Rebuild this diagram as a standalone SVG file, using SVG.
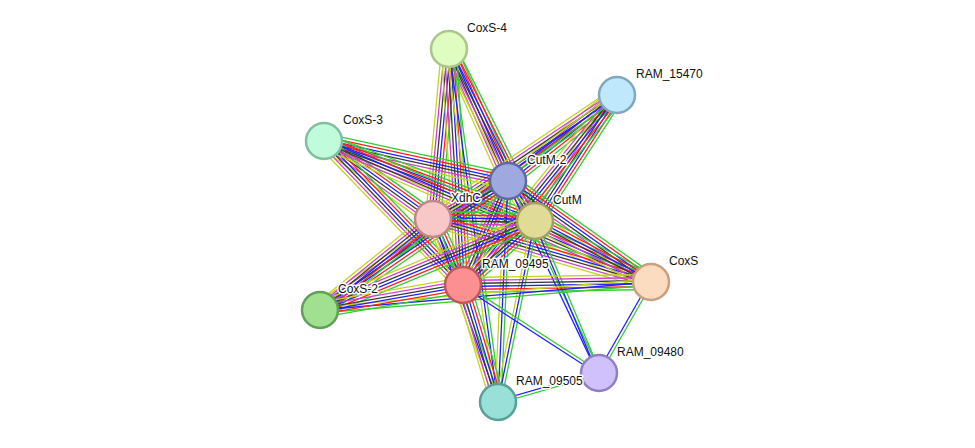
<svg xmlns="http://www.w3.org/2000/svg" xmlns:xlink="http://www.w3.org/1999/xlink" width="975" height="448" viewBox="0 0 975 448">
<style>
line{vector-effect:non-scaling-stroke;stroke-width:1.3}
.g{stroke:#33cc33}.r{stroke:#ff2020}.b{stroke:#2020ff}.k{stroke:#3a3a3a}.m{stroke:#d040d0}.y{stroke:#c4d420}
circle{stroke-width:2.5}
text{font-family:"Liberation Sans",Arial,sans-serif;font-size:12px;fill:#111;paint-order:stroke;stroke:#fff;stroke-width:3px;stroke-linejoin:round}
</style>
<defs>
<g id="b6"><line class="g" x1="0" y1="-7.5" x2="1" y2="-7.5"/><line class="r" x1="0" y1="-4.5" x2="1" y2="-4.5"/><line class="b" x1="0" y1="-1.5" x2="1" y2="-1.5"/><line class="k" x1="0" y1="1.5" x2="1" y2="1.5"/><line class="m" x1="0" y1="4.5" x2="1" y2="4.5"/><line class="y" x1="0" y1="7.5" x2="1" y2="7.5"/></g>
<g id="b3"><line class="g" x1="0" y1="-3" x2="1" y2="-3"/><line class="b" x1="0" y1="0" x2="1" y2="0"/><line class="y" x1="0" y1="3" x2="1" y2="3"/></g>
<g id="b2"><line class="g" x1="0" y1="-1.5" x2="1" y2="-1.5"/><line class="b" x1="0" y1="1.5" x2="1" y2="1.5"/></g>
</defs>
<g id="edges">
<use href="#b6" transform="matrix(59,132,-.913,.408,449,49)"/>
<use href="#b6" transform="matrix(-16,170,-.9956,-.0937,449,49)"/>
<use href="#b6" transform="matrix(86,172,-.894,.447,449,49)"/>
<use href="#b6" transform="matrix(14,236,-.9982,.0592,449,49)"/>
<use href="#b3" transform="matrix(49,353,-.9905,.1375,449,49)"/>
<use href="#b6" transform="matrix(-109,86,-.62,-.785,617,95)"/>
<use href="#b6" transform="matrix(-184,124,-.559,-.829,617,95)"/>
<use href="#b6" transform="matrix(-82,126,-.838,-.5455,617,95)"/>
<use href="#b6" transform="matrix(-154,190,-.777,-.63,617,95)"/>
<use href="#b3" transform="matrix(-297,215,-.586,-.81,617,95)"/>
<use href="#b6" transform="matrix(184,40,-.2124,.977,324,141)"/>
<use href="#b6" transform="matrix(109,78,-.582,.813,324,141)"/>
<use href="#b6" transform="matrix(211,80,-.3545,.935,324,141)"/>
<use href="#b6" transform="matrix(139,144,-.72,.695,324,141)"/>
<use href="#b6" transform="matrix(327,141,-.396,.918,324,141)"/>
<use href="#b6" transform="matrix(-75,38,-.452,-.892,508,181)"/>
<use href="#b6" transform="matrix(27,40,-.828,.559,508,181)"/>
<use href="#b6" transform="matrix(-45,104,-.918,-.397,508,181)"/>
<use href="#b6" transform="matrix(-188,129,-.566,-.8245,508,181)"/>
<use href="#b6" transform="matrix(143,101,-.577,.8167,508,181)"/>
<use href="#b3" transform="matrix(-10,221,-.999,-.0452,508,181)"/>
<use href="#b2" transform="matrix(91,192,-.9035,.428,508,181)"/>
<use href="#b6" transform="matrix(102,2,-.0196,1,433,219)"/>
<use href="#b6" transform="matrix(30,66,-.91,.414,433,219)"/>
<use href="#b6" transform="matrix(-113,91,-.627,-.779,433,219)"/>
<use href="#b6" transform="matrix(218,63,-.278,.961,433,219)"/>
<use href="#b3" transform="matrix(65,183,-.942,.3347,433,219)"/>
<use href="#b6" transform="matrix(-72,64,-.6646,-.7477,535,221)"/>
<use href="#b6" transform="matrix(-215,89,-.3825,-.924,535,221)"/>
<use href="#b6" transform="matrix(116,61,-.4653,.885,535,221)"/>
<use href="#b3" transform="matrix(-37,181,-.98,-.2003,535,221)"/>
<use href="#b2" transform="matrix(64,152,-.922,.388,535,221)"/>
<use href="#b6" transform="matrix(-188,3,-.016,-1,651,282)"/>
<use href="#b2" transform="matrix(-52,91,-.868,-.496,651,282)"/>
<use href="#b3" transform="matrix(-331,28,-.0843,-.9964,651,282)"/>
<use href="#b6" transform="matrix(-143,25,-.172,-.985,463,285)"/>
<use href="#b6" transform="matrix(35,117,-.958,.2866,463,285)"/>
<use href="#b2" transform="matrix(136,88,-.543,.8395,463,285)"/>
<use href="#b2" transform="matrix(-101,29,-.276,-.961,599,373)"/>
</g>
<g id="n-CoxS-4"><circle cx="449" cy="49" r="18" fill="#e0fcc0" stroke="#a8c88a"/><text x="467" y="32">CoxS-4</text></g>
<g id="n-RAM_15470"><circle cx="617" cy="95" r="18" fill="#c0e8fc" stroke="#80a8c0"/><text x="636" y="78">RAM_15470</text></g>
<g id="n-CoxS-3"><circle cx="324" cy="141" r="18" fill="#c0fcdc" stroke="#80c0a0"/><text x="343" y="124">CoxS-3</text></g>
<g id="n-CutM-2"><circle cx="508" cy="181" r="18" fill="#a0a8e0" stroke="#6068a8"/><text x="527" y="164">CutM-2</text></g>
<g id="n-XdhC"><circle cx="433" cy="219" r="18" fill="#f8c8c8" stroke="#c08888"/><text x="451" y="202">XdhC</text></g>
<g id="n-CutM"><circle cx="535" cy="221" r="18" fill="#e0dc98" stroke="#a0a060"/><text x="553" y="204">CutM</text></g>
<g id="n-CoxS"><circle cx="651" cy="282" r="18" fill="#fcdcc0" stroke="#c8a080"/><text x="669" y="265">CoxS</text></g>
<g id="n-RAM_09495"><circle cx="463" cy="285" r="18" fill="#fc9090" stroke="#c05858"/><text x="482" y="268">RAM_09495</text></g>
<g id="n-CoxS-2"><circle cx="320" cy="310" r="18" fill="#a0e090" stroke="#60a058"/><text x="338" y="293">CoxS-2</text></g>
<g id="n-RAM_09480"><circle cx="599" cy="373" r="18" fill="#d0c0fc" stroke="#9080c0"/><text x="617" y="356">RAM_09480</text></g>
<g id="n-RAM_09505"><circle cx="498" cy="402" r="18" fill="#98e0d8" stroke="#58a098"/><text x="516" y="385">RAM_09505</text></g>
</svg>
